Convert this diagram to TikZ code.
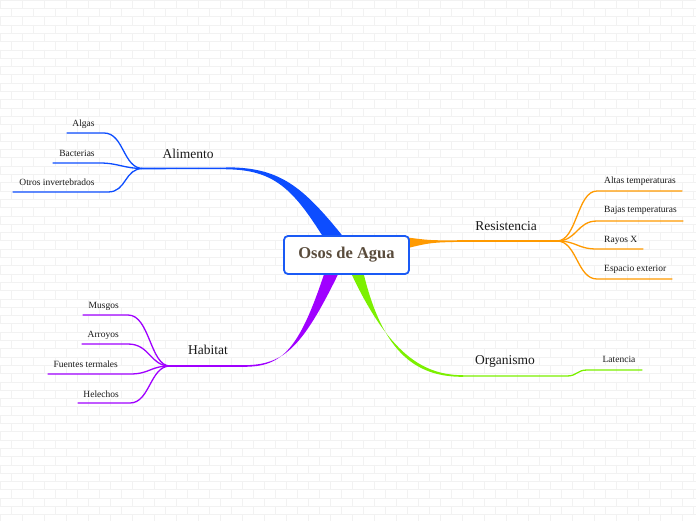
\documentclass[tikz,border=0pt]{standalone}
\usepackage{fontspec}
\setmainfont{Liberation Serif}
\definecolor{cblue}{HTML}{0D4DFF}
\definecolor{cbox}{HTML}{1A5AF5}
\definecolor{corange}{HTML}{FF9A00}
\definecolor{cpurple}{HTML}{A000FF}
\definecolor{cgreen}{HTML}{7CF000}
\definecolor{ctitle}{HTML}{5A4C3C}
\definecolor{ctext}{HTML}{1A1A1A}
\definecolor{cbrick}{HTML}{F2F2F2}
\tikzset{
  brick/.style={draw=cbrick,line width=0.6pt},
  mainlbl/.style={font=\fontsize{13.5}{15}\selectfont,text=ctext,inner sep=0pt},
  sublbl/.style={font=\fontsize{9.5}{11}\selectfont,text=ctext,inner sep=0pt},
  subline/.style={line width=1.3pt,line cap=round},
  mainline/.style={line width=1.6pt},
  titlebox/.style={draw=cbox,line width=1.8pt,rounded corners=4pt,fill=white,
     minimum width=125pt,minimum height=38pt,font=\fontsize{16.5}{18}\selectfont\bfseries,text=ctitle}
}
\begin{document}
\begin{tikzpicture}[x=1pt,y=-1pt]
\useasboundingbox (0,0) rectangle (696,520);
\fill[white] (0,0) rectangle (696,520);
% faint brick background
\foreach \r in {0,...,62}{
  \pgfmathsetmacro\yy{\r*8.3}
  \pgfmathsetmacro\off{mod(\r,2)*11}
  \draw[brick] (0,\yy) -- (696,\yy);
  \foreach \c in {-1,...,31}{
    \draw[brick] ({\off+\c*22},\yy) -- ({\off+\c*22},{\yy+8.3});
  }
}
% coordinates
\coordinate (aEnd) at (226,168.3);
\coordinate (aHub) at (143,168.5);
\coordinate (rEnd) at (462,241);
\coordinate (rHub) at (557,241);
\coordinate (hEnd) at (243,366);
\coordinate (hHub) at (170,366);
\coordinate (oEnd) at (463,376);
\coordinate (oMid) at (567,376);
% tapered main branches
\fill[cblue] (353,249) .. controls (305,188) and (283,167.3) .. (226,167.3)
   -- (226,169.3) .. controls (281,169.5) and (298,196) .. (335,256) -- cycle;
\fill[corange] (400,236.5) .. controls (430,240.5) .. (462,240.2)
   -- (462,241.8) .. controls (430,242.5) .. (400,250) -- cycle;
\fill[cpurple] (344,262) .. controls (303,348) and (285,365.2) .. (243,365.2)
   -- (243,366.8) .. controls (283,367) and (300,350) .. (328,262) -- cycle;
\fill[cgreen] (346,262) .. controls (385,350) and (420,375.2) .. (463,375.2)
   -- (463,376.8) .. controls (415,377) and (380,352) .. (361,262) -- cycle;
% central node
\node[titlebox] (osos) at (346.5,255) {Osos de Agua};
% main horizontal lines
\draw[mainline,cblue] (aEnd) -- (aHub);
\draw[mainline,corange] (rEnd) -- (rHub);
\draw[mainline,cpurple] (hEnd) -- (hHub);
% main labels
\node[mainlbl] (alimento) at (188,154) {Alimento};
\node[mainlbl] (resistencia) at (506,226) {Resistencia};
\node[mainlbl] (habitat) at (208,350) {Habitat};
\node[mainlbl] (organismo) at (505,361) {Organismo};
% Alimento sub-branches
\node[sublbl] (algas) at (83.5,124) {Algas};
\node[sublbl] (bacterias) at (77,153) {Bacterias};
\node[sublbl] (otros) at (57,182) {Otros invertebrados};
\coordinate (alg1) at (104,133); \coordinate (alg2) at (67,133);
\coordinate (bac1) at (100,163); \coordinate (bac2) at (53,163);
\coordinate (otr1) at (108,192); \coordinate (otr2) at (13,192);
\draw[subline,cblue] (aHub) .. controls (123,168.5) and (124,133) .. (alg1) -- (alg2);
\draw[subline,cblue] (aHub) .. controls (124,168.5) and (118,163) .. (bac1) -- (bac2);
\draw[subline,cblue] (aHub) .. controls (124,168.5) and (127,192) .. (otr1) -- (otr2);
% Resistencia sub-branches
\node[sublbl,anchor=west] (altas) at (604,181) {Altas temperaturas};
\node[sublbl,anchor=west] (bajas) at (604,210) {Bajas temperaturas};
\node[sublbl,anchor=west] (rayos) at (604,240) {Rayos X};
\node[sublbl,anchor=west] (espacio) at (604,269) {Espacio exterior};
\coordinate (alt1) at (597,191); \coordinate (alt2) at (682,191);
\coordinate (baj1) at (597,221); \coordinate (baj2) at (683,221);
\coordinate (ray1) at (597,249); \coordinate (ray2) at (643,249);
\coordinate (esp1) at (597,279); \coordinate (esp2) at (672,279);
\draw[subline,corange] (rHub) .. controls (577,241) and (577,191) .. (alt1) -- (alt2);
\draw[subline,corange] (rHub) .. controls (577,241) and (577,221) .. (baj1) -- (baj2);
\draw[subline,corange] (rHub) .. controls (577,241) and (577,249) .. (ray1) -- (ray2);
\draw[subline,corange] (rHub) .. controls (577,241) and (577,279) .. (esp1) -- (esp2);
% Habitat sub-branches
\node[sublbl,anchor=east] (musgos) at (119,306) {Musgos};
\node[sublbl,anchor=east] (arroyos) at (119,335) {Arroyos};
\node[sublbl,anchor=east] (fuentes) at (118,364) {Fuentes termales};
\node[sublbl,anchor=east] (helechos) at (119,394) {Helechos};
\coordinate (mus1) at (128,315); \coordinate (mus2) at (83,315);
\coordinate (arr1) at (128,344); \coordinate (arr2) at (82,344);
\coordinate (fue1) at (130,374); \coordinate (fue2) at (48,374);
\coordinate (hel1) at (130,403); \coordinate (hel2) at (78,403);
\draw[subline,cpurple] (hHub) .. controls (150,366) and (150,315) .. (mus1) -- (mus2);
\draw[subline,cpurple] (hHub) .. controls (150,366) and (150,344) .. (arr1) -- (arr2);
\draw[subline,cpurple] (hHub) .. controls (150,366) and (150,374) .. (fue1) -- (fue2);
\draw[subline,cpurple] (hHub) .. controls (150,366) and (150,403) .. (hel1) -- (hel2);
% Organismo
\node[sublbl] (latencia) at (619,359) {Latencia};
\coordinate (lat1) at (587,370); \coordinate (lat2) at (642,370);
\draw[subline,cgreen] (oEnd) -- (oMid) .. controls (577,376) and (577,370) .. (lat1) -- (lat2);
\end{tikzpicture}
\end{document}
